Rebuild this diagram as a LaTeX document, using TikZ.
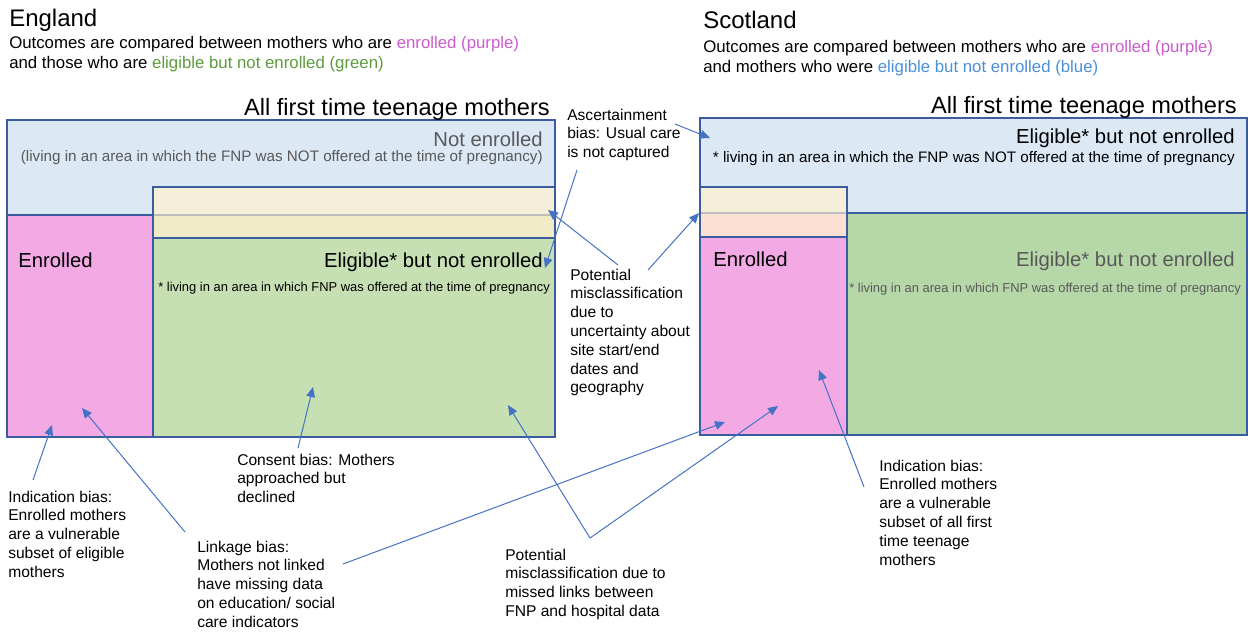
\documentclass[tikz,border=0pt]{standalone}
\usepackage{fontspec}
\setmainfont{Liberation Sans}
\usetikzlibrary{fit,arrows.meta}
\definecolor{boxblue}{HTML}{DDE8F5}
\definecolor{pinkf}{HTML}{F2A9E4}
\definecolor{greenE}{HTML}{C6E0B4}
\definecolor{greenS}{HTML}{B6D7A8}
\definecolor{yelA}{HTML}{F5EED8}
\definecolor{yelB}{HTML}{EFEBC6}
\definecolor{peach}{HTML}{FCE0D4}
\definecolor{bordc}{HTML}{3B5C9E}
\definecolor{arrc}{HTML}{4472C4}
\definecolor{graytxt}{HTML}{595959}
\definecolor{purpletxt}{HTML}{CC5BCC}
\definecolor{greentxt}{HTML}{5E9B3E}
\definecolor{bluetxt}{HTML}{4A90D9}
\definecolor{sepgray}{HTML}{BDBDBD}
\begin{document}
\begin{tikzpicture}[x=0.75pt,y=-0.75pt,
  region/.style={draw=bordc, line width=1.5pt, inner sep=0pt},
  ttl/.style={font=\fontsize{18}{22}\selectfont, inner sep=0pt, anchor=base west},
  sub/.style={font=\fontsize{12.6}{15}\selectfont, inner sep=0pt, anchor=base west, align=left},
  allm/.style={font=\fontsize{17.7}{21}\selectfont, inner sep=0pt, anchor=base east},
  lbl/.style={font=\fontsize{15.2}{18}\selectfont, inner sep=0pt},
  note/.style={font=\fontsize{11.4}{14}\selectfont, inner sep=0pt},
  snote/.style={font=\fontsize{9.7}{12}\selectfont, inner sep=0pt},
  anno/.style={font=\fontsize{11.7}{14.1}\selectfont, align=left, inner sep=0pt, anchor=base west},
  arr/.style={draw=arrc, line width=0.75pt, -{Triangle[length=7.5pt,width=6.5pt]}}]
\useasboundingbox (0,0) rectangle (1248,633);

% ---------- England ----------
\node[region, fill=boxblue, fit={(7,120)(555,215)}] (eblue) {};
\node[region, fill=yelA, fit={(153,187)(555,238)}] (eyel) {};
\fill[yelB] (154,215) rectangle (554,237);
\draw[sepgray, line width=1.2pt] (154,215) -- (554,215);
\node[region, fit={(153,187)(555,238)}] (eyelo) {};
\node[region, fill=pinkf, fit={(7,215)(153,437)}] (epink) {};
\node[region, fill=greenE, fit={(153,238)(555,437)}] (egreen) {};

\node[ttl] (etitle) at (9,26) {England};
\node[sub] (esub) at (9,68) {Outcomes are compared between mothers who are \textcolor{purpletxt}{enrolled (purple)}\\and those who are \textcolor{greentxt}{eligible but not enrolled (green)}};
\node[allm] (eall) at (550,115) {All first time teenage mothers};
\node[lbl, text=graytxt, anchor=base east] (enot) at (543,146) {Not enrolled};
\node[note, text=graytxt, anchor=base east] (enotn) at (543,161) {(living in an area in which the FNP was NOT offered at the time of pregnancy)};
\node[lbl, anchor=base west] (eenr) at (18,267) {Enrolled};
\node[lbl, anchor=base east] (eelig) at (543,267) {Eligible* but not enrolled};
\node[snote, anchor=base west] (eelign) at (158,291) {* living in an area in which FNP was offered at the time of pregnancy};

% ---------- Scotland ----------
\node[region, fill=boxblue, fit={(700,118)(1247,213)}] (sblue) {};
\node[region, fill=yelA, fit={(700,187)(847,237)}] (syel) {};
\fill[peach] (701,213) rectangle (846,236);
\draw[sepgray, line width=1.2pt] (701,213) -- (846,213);
\node[region, fit={(700,187)(847,237)}] (syelo) {};
\node[region, fill=pinkf, fit={(700,237)(847,435)}] (spink) {};
\node[region, fill=greenS, fit={(847,213)(1247,435)}] (sgreen) {};

\node[ttl] (stitle) at (703,28) {Scotland};
\node[sub] (ssub) at (703,72) {Outcomes are compared between mothers who are \textcolor{purpletxt}{enrolled (purple)}\\and mothers who were \textcolor{bluetxt}{eligible but not enrolled (blue)}};
\node[allm] (sall) at (1237,113) {All first time teenage mothers};
\node[lbl, anchor=base east] (selig1) at (1235,143) {Eligible* but not enrolled};
\node[note, anchor=base east] (selig1n) at (1235,162) {* living in an area in which the FNP was NOT offered at the time of pregnancy};
\node[lbl, anchor=base west] (senr) at (713,266) {Enrolled};
\node[lbl, text=graytxt, anchor=base east] (selig2) at (1235,266) {Eligible* but not enrolled};
\node[snote, text=graytxt, anchor=base west] (selig2n) at (849,292) {* living in an area in which FNP was offered at the time of pregnancy};

% ---------- annotations (anchored at the baseline of their last line) ----------
\node[anno] (asc) at (567,157.6) {Ascertainment\\bias: Usual care\\is not captured};
\node[anno] (site) at (570,392.8) {Potential\\misclassification\\due to\\uncertainty about\\site start/end\\dates and\\geography};
\node[anno] (cons) at (237,502.6) {Consent bias: Mothers\\approached but\\declined};
\node[anno] (indE) at (8,577.2) {Indication bias:\\Enrolled mothers\\are a vulnerable\\subset of eligible\\mothers};
\node[anno] (link) at (197,627.2) {Linkage bias:\\Mothers not linked\\have missing data\\on education/ social\\care indicators};
\node[anno] (miss) at (505,616.4) {Potential\\misclassification due to\\missed links between\\FNP and hospital data};
\node[anno] (indS) at (879,565) {Indication bias:\\Enrolled mothers\\are a vulnerable\\subset of all first\\time teenage\\mothers};

% ---------- arrow end points ----------
\coordinate (ascA) at (577,170);  \coordinate (ascT1) at (545,268);
\coordinate (ascB) at (675,124);  \coordinate (ascT2) at (710,138);
\coordinate (siteA) at (618,265); \coordinate (siteT1) at (548,210);
\coordinate (siteB) at (648,270); \coordinate (siteT2) at (699,213);
\coordinate (consA) at (298,448); \coordinate (consT) at (313,387);
\coordinate (indEA) at (33,480);  \coordinate (indET) at (52,425);
\coordinate (linkA) at (185,532); \coordinate (linkT1) at (82,408);
\coordinate (linkB) at (343,564); \coordinate (linkT2) at (725,422);
\coordinate (missA) at (590,538); \coordinate (missT1) at (508,405);
\coordinate (missT2) at (778,406);
\coordinate (indSA) at (864,487); \coordinate (indST) at (819,370);

\draw[arr] (ascA) -- (ascT1);
\draw[arr] (ascB) -- (ascT2);
\draw[arr] (siteA) -- (siteT1);
\draw[arr] (siteB) -- (siteT2);
\draw[arr] (consA) -- (consT);
\draw[arr] (indEA) -- (indET);
\draw[arr] (linkA) -- (linkT1);
\draw[arr] (linkB) -- (linkT2);
\draw[arr] (missA) -- (missT1);
\draw[arr] (missA) -- (missT2);
\draw[arr] (indSA) -- (indST);
\end{tikzpicture}
\end{document}
